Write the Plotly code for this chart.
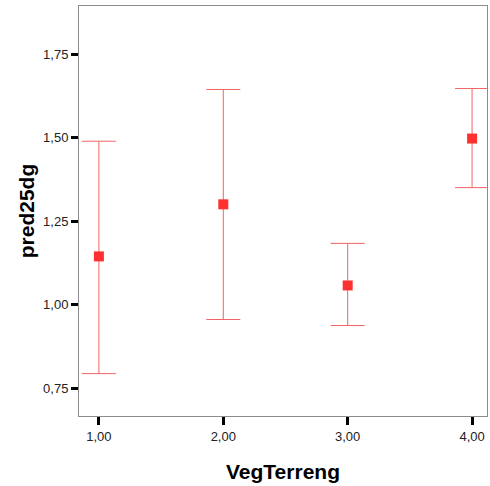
import plotly.graph_objects as go

categories = [1, 2, 3, 4]
cat_labels = ["1,00", "2,00", "3,00", "4,00"]
means = [1.145, 1.301, 1.058, 1.498]
upper = [1.490, 1.645, 1.184, 1.648]
lower = [0.794, 0.956, 0.938, 1.351]
y_ticks = [0.75, 1.00, 1.25, 1.50, 1.75]
y_tick_labels = ["0,75", "1,00", "1,25", "1,50", "1,75"]

err_plus = [u - m for u, m in zip(upper, means)]
err_minus = [m - l for m, l in zip(means, lower)]

fig = go.Figure()
fig.add_trace(go.Scatter(
    x=categories, y=means, mode="markers",
    marker=dict(symbol="square", size=10, color="#ff3030"),
    error_y=dict(type="data", symmetric=False, array=err_plus, arrayminus=err_minus,
                 color="#f26464", thickness=1, width=17),
    showlegend=False,
))

fig.update_layout(
    width=490, height=486,
    margin=dict(l=79, r=3, t=6, b=70),
    paper_bgcolor="white", plot_bgcolor="white",
    font=dict(family="Arial, Liberation Sans, sans-serif", color="#222"),
)
fig.update_xaxes(
    range=[0.84, 4.12], tickvals=categories, ticktext=cat_labels,
    showgrid=False, zeroline=False,
    showline=True, linecolor="#8c8c8c", linewidth=1, mirror=True,
    ticks="outside", ticklen=8, tickwidth=3, tickcolor="black",
    tickfont=dict(size=13, color="#222"),
    title=dict(text="<b>VegTerreng</b>", font=dict(size=21, color="black"), standoff=21),
)
fig.update_yaxes(
    range=[0.667, 1.895], tickvals=y_ticks, ticktext=y_tick_labels,
    showgrid=False, zeroline=False,
    showline=True, linecolor="#8c8c8c", linewidth=1, mirror=True,
    ticks="outside", ticklen=7, tickwidth=3, tickcolor="black",
    tickfont=dict(size=13, color="#222"),
    title=dict(text="<b>pred25dg</b>", font=dict(size=21, color="black"), standoff=2),
)

fig.write_html("out.html", config={"displayModeBar": False},
               post_script="document.body.style.margin='0';document.body.style.overflow='hidden';")
